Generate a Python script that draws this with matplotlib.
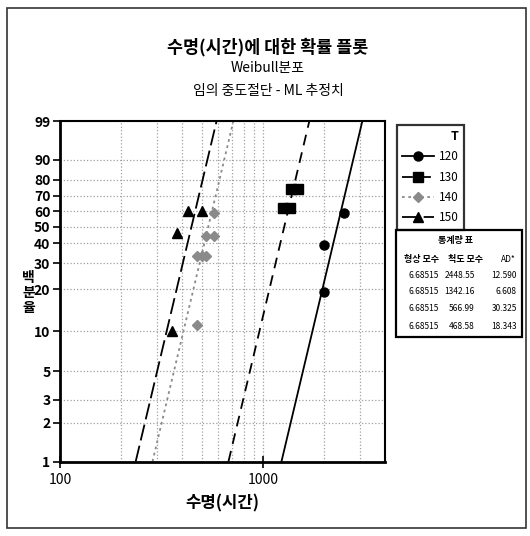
import numpy as np
import matplotlib
matplotlib.use("Agg")
import matplotlib.pyplot as plt
from matplotlib.patches import Rectangle
from matplotlib.legend_handler import HandlerTuple

plt.rcParams['font.family'] = ['Noto Sans CJK KR', 'DejaVu Sans']

# 데이터
temps = ["120", "130", "140", "150"]
t120 = [2000, 2000, 2500]
p120 = [19.1, 39.1, 58.5]
t130 = [1253, 1355, 1369, 1483]
p130 = [62.3, 62.3, 74.4, 74.4]
t140 = [471, 471, 497, 525, 522, 574, 574]
p140 = [11.1, 33.4, 33.4, 33.4, 44.4, 44.4, 58.5]
t150 = [354, 375, 426, 498]
p150 = [10.0, 46.2, 60.0, 60.0]

shape_vals = [6.68515, 6.68515, 6.68515, 6.68515]
scale_vals = [2448.55, 1342.16, 566.99, 468.58]
ad_vals = [12.590, 6.608, 30.325, 18.343]

y_ticks = [1, 2, 3, 5, 10, 20, 30, 40, 50, 60, 70, 80, 90, 99]


def weib_fwd(p):
    p = np.clip(np.asarray(p, dtype=float), 1e-6, 100 - 1e-6)
    return np.log(-np.log(1 - p / 100.0))


def weib_inv(w):
    return 100.0 * (1 - np.exp(-np.exp(np.asarray(w, dtype=float))))


W, H = 530, 536
fig = plt.figure(figsize=(W / 100, H / 100), dpi=100)

# 바깥 테두리
fig.patches.append(Rectangle((7 / W, 1 - 528 / H), 519 / W, 520 / H, transform=fig.transFigure,
                             fill=False, edgecolor='#333333', linewidth=1.2))

ax = fig.add_axes([60.2 / W, 1 - 461.5 / H, 325.2 / W, 340.1 / H])
ax.set_xscale('log')
ax.set_yscale('function', functions=(weib_fwd, weib_inv))
ax.set_xlim(100, 4000)
ax.set_ylim(1, 99)

styles = [
    dict(marker='o', color='black', ls='-', ms=6.5),
    dict(marker='s', color='black', ls=(0, (6, 4)), ms=7),
    dict(marker='D', color='#8a8a8a', ls=(0, (1.5, 2)), ms=5.5),
    dict(marker='^', color='black', ls=(0, (9, 3)), ms=7.5),
]
data = [(t120, p120), (t130, p130), (t140, p140), (t150, p150)]

pp = np.linspace(1, 99, 200)
handles = []
for (tt, ps), st, beta, eta in zip(data, styles, shape_vals, scale_vals):
    fit_t = eta * (-np.log(1 - pp / 100.0)) ** (1.0 / beta)
    ln, = ax.plot(fit_t, pp, color=st['color'], ls=st['ls'], lw=1.3)
    pt, = ax.plot(tt, ps, ls='none', marker=st['marker'], color=st['color'],
                  mfc=st['color'], mec=st['color'], ms=st['ms'])
    handles.append((ln, pt))

ax.set_yticks(y_ticks)
ax.set_yticklabels([str(v) for v in y_ticks], fontsize=10, fontweight='bold')
ax.set_xticks([100, 1000])
ax.set_xticklabels(["100", "1000"], fontsize=10)
minor_x = [200, 300, 400, 500, 600, 700, 800, 900, 2000, 3000, 4000]
ax.set_xticks(minor_x, minor=True)
ax.tick_params(axis='x', which='minor', length=0)
ax.tick_params(axis='y', which='minor', length=0, left=False)
ax.tick_params(axis='y', which='major', direction='out', length=5, width=1.2, pad=2)
ax.tick_params(axis='x', which='major', direction='inout', length=8, width=1.2, pad=4)

ax.grid(True, which='major', axis='y', color='#a0a0a0', linestyle=':', linewidth=0.9)
ax.grid(True, which='both', axis='x', color='#a0a0a0', linestyle=':', linewidth=0.9)
for side in ['left', 'bottom']:
    ax.spines[side].set_linewidth(2.0)
for side in ['top', 'right']:
    ax.spines[side].set_linewidth(1.5)

ax.set_xlabel("수명(시간)", fontsize=12, fontweight='bold', labelpad=6)
fig.text(28.7 / W, 1 - 293 / H, "백\n분\n율", fontsize=10, fontweight='bold',
         ha='center', va='center', linespacing=1.1)

# 제목
fig.text(268 / W, 1 - 47 / H, "수명(시간)에 대한 확률 플롯", fontsize=12.5, fontweight='bold',
         ha='center', va='center')
fig.text(268 / W, 1 - 68 / H, "Weibull분포", fontsize=10, ha='center', va='center')
fig.text(268 / W, 1 - 91 / H, "임의 중도절단 - ML 추정치", fontsize=10, ha='center', va='center')

# 범례
leg = ax.legend(handles, temps, title="T", loc='upper left',
                bbox_to_anchor=(397 / W, 1 - 124.8 / H), bbox_transform=fig.transFigure,
                frameon=True, fancybox=False, edgecolor='black', fontsize=8.5, title_fontsize=9,
                handlelength=2.7, handletextpad=0.4, borderaxespad=0, labelspacing=0.62,
                borderpad=0.45, alignment='right',
                handler_map={tuple: HandlerTuple(ndivide=1, pad=0)})
leg.get_frame().set_linewidth(1.6)
leg.get_title().set_fontweight('bold')

# 통계량 표
fig.patches.append(Rectangle((396 / W, 1 - 336.8 / H), 126.3 / W, 107.1 / H, transform=fig.transFigure,
                             fill=False, edgecolor='black', linewidth=1.6))
fig.text(455 / W, 1 - 241 / H, "통계량 표", fontsize=6.5, fontweight='bold', ha='center', va='center')
fig.text(422 / W, 1 - 259.8 / H, "형상 모수", fontsize=6.5, fontweight='bold', ha='center', va='center')
fig.text(466 / W, 1 - 259.8 / H, "척도 모수", fontsize=6.5, fontweight='bold', ha='center', va='center')
fig.text(516 / W, 1 - 259.8 / H, "AD*", fontsize=6, ha='right', va='center')
row_y = [276, 292, 308.7, 326.5]
for ry, sh, sc, ad in zip(row_y, shape_vals, scale_vals, ad_vals):
    fig.text(424 / W, 1 - ry / H, f"{sh:.5f}", fontsize=6, ha='center', va='center')
    fig.text(475 / W, 1 - ry / H, f"{sc:.2f}", fontsize=6, ha='right', va='center')
    fig.text(517 / W, 1 - ry / H, f"{ad:.3f}", fontsize=6, ha='right', va='center')

fig.savefig("out.png", dpi=100)
